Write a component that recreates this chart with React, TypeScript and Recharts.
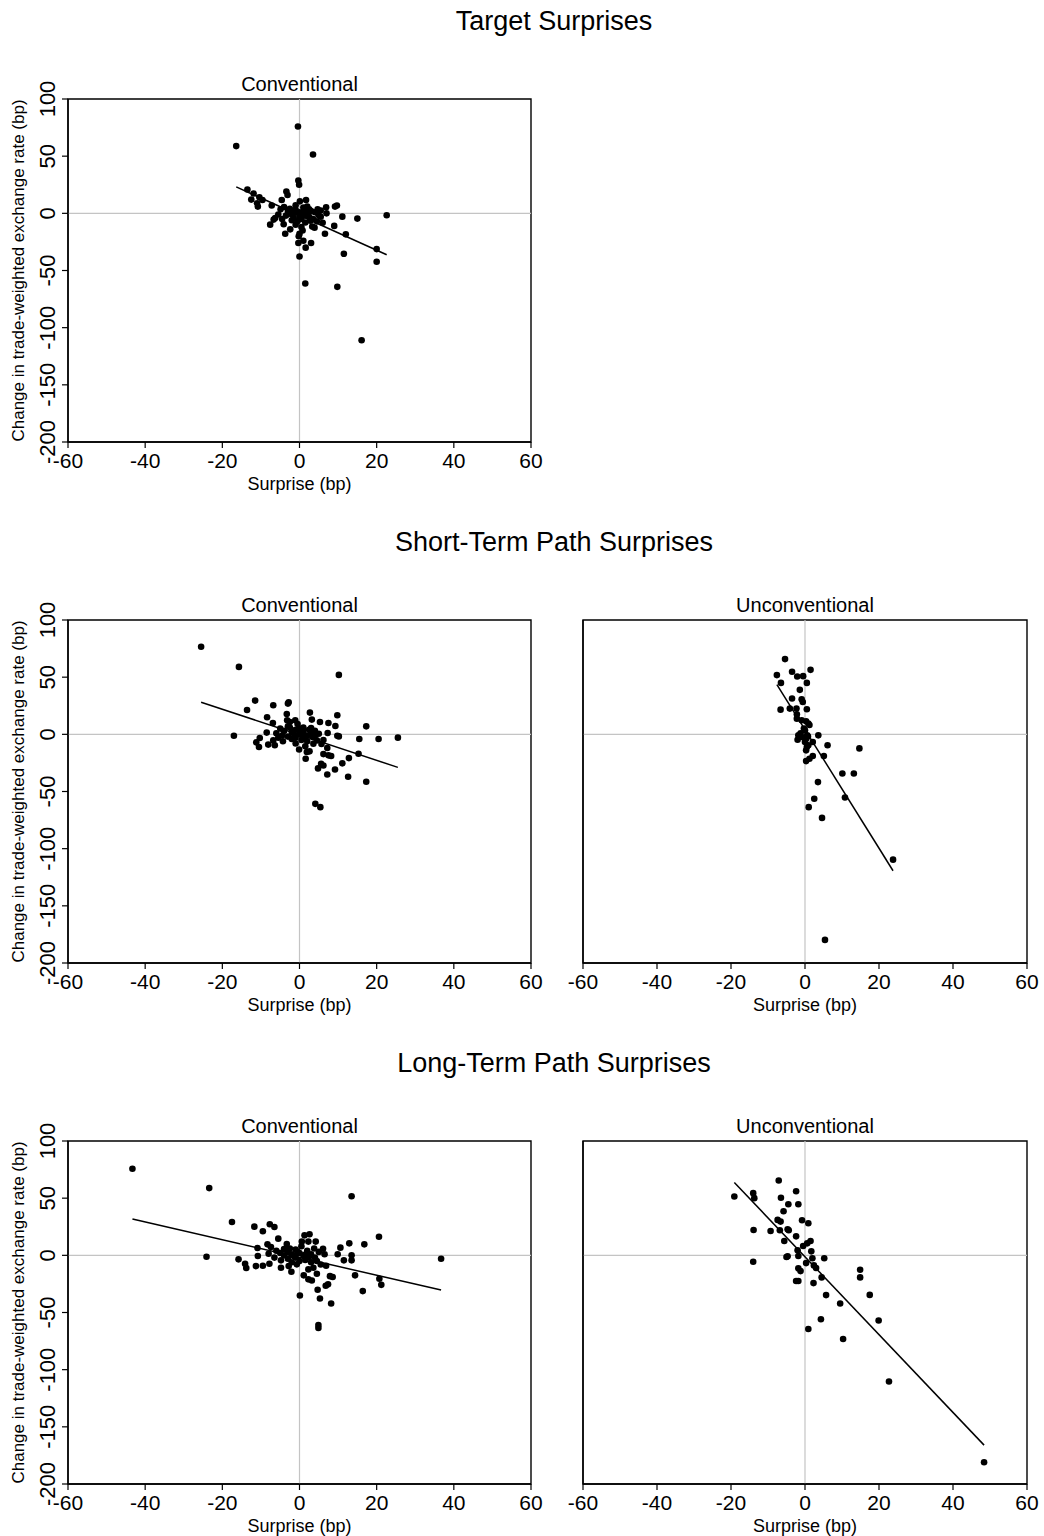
import React from "react";
import {
  ScatterChart,
  Scatter,
  XAxis,
  YAxis,
  ReferenceLine,
  ReferenceArea,
  Label,
} from "recharts";

// ---------- DATA ----------
const xTicks = [-60, -40, -20, 0, 20, 40, 60];
const yTicks = [-200, -150, -100, -50, 0, 50, 100];

const sectionTitles = ["Target Surprises", "Short-Term Path Surprises", "Long-Term Path Surprises"];
const panelTitles = ["Conventional", "Unconventional"];
const xLabel = "Surprise (bp)";
const yLabel = "Change in trade-weighted exchange rate (bp)";

// Target surprises, conventional: [surprise, change]
const targetConv: number[][] = [
  [-16.4, 58.8], [-0.4, 76], [3.5, 51.5], [-0.3, 28.7], [-0.1, 25], [-13.5, 20.8], [-11.9, 17.3],
  [-12.5, 12], [-10.4, 14], [-9.6, 11.7], [-11, 8.8], [-10.8, 5.9], [-7.2, 6.8], [-3.4, 19],
  [-3.1, 16.1], [-4.6, 11.7], [-4.9, 3.5], [-4.0, 5.6], [0.1, 10.5], [1.7, 11.7], [6.9, 5.3],
  [9.2, 5.9], [9.7, 6.8], [7.0, 0], [4.7, 3.5], [4.9, -1.4], [11.1, -2.9], [15.0, -4.6],
  [22.6, -1.7], [-6.7, -5.5], [-6.3, -4.1], [-7.6, -9.9], [-4.1, -9.6], [-2.4, -14], [-3.7, -17.8],
  [6.0, -8.2], [3.9, -12.5], [3.3, -11.6], [9.0, -11], [6.6, -17.8], [12.0, -18.4], [0, -18],
  [1.0, -24], [-0.3, -26], [1.6, -30], [3.0, -26], [0, -37.7], [11.5, -35.4], [20.0, -31.3],
  [20.0, -42.4], [1.5, -61.4], [9.8, -64.3], [16.1, -111],
  [-3, 2], [-2, -1], [-1, 3], [0, 1], [1, -2], [2, 0], [3, 2], [-1.5, -4], [0.5, -5], [2.5, -3],
  [-2.5, 4], [1, 5], [-0.5, -7], [1.5, -8], [0.5, -12], [-1, -10], [3.5, -5], [4, 1], [-3.5, -2],
  [-1, 7], [2, 6], [0, -3], [-0.5, 0.5], [1.2, 2.5], [2.8, -6.5], [-2, -6], [-1.8, 1.2], [0.8, -15],
  [-0.2, -20], [5.5, -3], [4.5, -7], [-5.5, -1], [-4.5, -5], [2.5, 3.5], [5.5, 2.5],
];
const targetConvFit = [[-16.4, 23.1], [22.6, -36.2]];

// Short-term path surprises
const shortConv: number[][] = [
  [-25.5, 76.6], [-15.7, 59], [10.2, 52], [-11.5, 29.5], [-13.6, 21.3], [-6.8, 25.4], [-3.0, 26.9],
  [-2.8, 28], [-8.4, 14.9], [-3.3, 17.8], [-3.2, 12.3], [-2.5, 10.8], [-1.1, 12.3], [-6.9, 9.9],
  [2.7, 19], [3.2, 12.9], [5.3, 10.8], [7.5, 9.9], [9.8, 16.7], [9.3, 7.3], [17.3, 7.0], [7.3, 1.2],
  [9.8, -1.2], [10.2, -1.8], [-17.0, -1.2], [-8.5, 1.5], [15.5, -4.1], [20.5, -4.1], [25.5, -2.9],
  [-10.3, -3.2], [-11.2, -7], [-10.5, -11.1], [-8.1, -9], [-6.8, -5.3], [-6.4, -9.6], [-4.3, -6.1],
  [-0.1, -13.2], [1.5, -10.5], [1.6, -21.3], [1.9, -15.5], [2.6, -14.9], [3.6, -8.2], [4.5, -5.3],
  [6.2, -5.0], [5.7, -8.5], [7.2, -12], [6.2, -17.3], [7.5, -18.4], [8.2, -19.0], [15.3, -17],
  [12.8, -20.8], [11.1, -25.4], [5.6, -25.7], [6.2, -27.2], [4.8, -29.8], [9.2, -30.7], [7.2, -35.1],
  [12.6, -37.1], [17.3, -41.5], [4.1, -60.8], [5.4, -63.7],
  [-5, 5], [-4, 3], [-3, 7], [-2, 2], [-1, 4], [0, 0], [1, 2], [2, -1], [3, 1], [4, 3], [-3, -2],
  [-1, -3], [0.5, -5], [2, -6], [-2, -4], [1, 6], [-0.5, 9], [0, 5], [-4.5, -1], [2.5, 4], [5, 0.5],
  [3.5, -2.5], [-6, 1], [1.5, -3], [-1.5, 0.8], [0.3, 2.8], [-2.5, 6], [0.8, -1.5], [-5.5, -3],
  [3, 5.5], [4, -1], [-1, -8],
];
const shortConvFit = [[-25.5, 28.1], [25.5, -28.9]];

const shortUnconv: number[][] = [
  [-5.4, 65.8], [-7.6, 51.8], [-6.5, 45], [-3.5, 54.7], [-2.1, 50.6], [-0.5, 50.9], [1.5, 56.4],
  [0.5, 45], [-1.4, 38.9], [-3.5, 31.3], [-0.9, 30.7], [-0.6, 28.3], [-6.6, 21.6], [-4.1, 22.5],
  [-2.3, 22.5], [0.5, 21.9], [-2.2, 17.5], [-2.2, 13.7], [-0.9, 12.3], [0.3, 11.4], [0.9, 9.4],
  [1.2, 8.2], [-0.3, 5], [0, 3.5], [-1.8, -0.9], [-2.0, -4.7], [-0.9, -2.3], [0.3, -3.8], [0.6, -0.9],
  [3.6, -0.9], [2.1, -6.7], [0, -6.7], [6.1, -9.6], [0.5, -11.1], [0.9, -9.6], [0.3, -14],
  [14.7, -12.3], [5.1, -19], [2.1, -19], [1.2, -21.3], [0.3, -23.4], [10.1, -34.2], [13.2, -34.2],
  [3.5, -41.8], [10.8, -55.3], [2.5, -56.4], [1.0, -63.7], [4.6, -73.1], [23.8, -109.6], [5.4, -179.8],
  [-1.2, 1.0], [0.8, -2.0],
];
const shortUnconvFit = [[-7.6, 43.5], [23.8, -119.3]];

// Long-term path surprises
const longConv: number[][] = [
  [-43.3, 75.7], [-23.4, 58.8], [13.5, 51.7], [-17.5, 29.2], [-11.7, 25.1], [-9.5, 21.1], [-7.7, 27.2],
  [-6.5, 24.8], [-5.5, 14.6], [-3.3, 9.9], [1.3, 17.5], [2.6, 18.4], [0.6, 12], [2.3, 12], [4.2, 12],
  [20.6, 16.3], [12.9, 10.5], [16.8, 9.6], [10.6, 6.7], [6.1, 5.8], [-10.9, 6.4], [-8.3, 9.6],
  [-7.4, 7.3], [-24.1, -1.2], [36.7, -3.0], [-15.8, -3.5], [-14.1, -7.3], [-13.8, -11.1], [-11.3, -9.4],
  [-9.5, -9.1], [-7.8, -7.3], [-10.8, -0.6], [-8.0, 1.4], [-4.8, -4.4], [-4.8, -10.9], [-2.1, -14.4],
  [-2.8, -9.4], [-0.7, -7.9], [1.1, -17.5], [2.3, -21], [3.2, -22], [2.3, -12.3], [3.6, -10.8],
  [4.5, -16.1], [6.9, -9.1], [9.9, 0.9], [11.5, -4.4], [13.5, 0], [13.5, -4.4], [7.9, -18.2],
  [8.6, -19], [14.4, -17.5], [20.7, -20.5], [21.2, -25.8], [6.8, -26.6], [7.4, -25.4], [4.7, -30.1],
  [16.4, -31.3], [0.1, -35.1], [5.3, -37.7], [8.2, -42.1], [4.9, -61], [4.9, -63.6],
  [-6, 4], [-5, 2], [-4, 0], [-3, 3], [-2, 1], [-1, 5], [0, 2], [1, 0], [2, 4], [3, 1], [4, -2],
  [5, 3], [-3, -3], [-1, -2], [0, -5], [1.5, -4], [3, -6], [4.5, -5], [-2.5, 6], [0.5, 8],
  [-1.5, -0.5], [2.5, -1], [3.8, 6], [-6.5, -2], [5.5, -8], [-0.5, 3], [1.8, 1.5], [-4, 5.5],
  [6.5, 1], [-2, -6],
];
const longConvFit = [[-43.3, 31.8], [36.7, -30.4]];

const longUnconv: number[][] = [
  [-19.1, 51.4], [-14.0, 54.4], [-13.7, 50], [-7.1, 65.4], [-2.4, 56.1], [-6.5, 50.3], [-4.5, 44.7],
  [-1.8, 44.7], [-5.8, 38.6], [-7.4, 31], [-6.6, 29.5], [-0.8, 30.7], [0.9, 28.1], [-13.9, 22.2],
  [-9.3, 21.3], [-6.8, 22], [-4.7, 22.8], [-4.4, 22], [-2.4, 16.6], [-5.6, 12.5], [-0.5, 8.2],
  [0.6, 10.5], [1.5, 12.5], [-2.0, 4.4], [-1.8, -0.6], [-5.0, -1.5], [-4.7, -0.9], [1.7, 3.5],
  [2.0, -2.6], [0.3, -6.8], [5.2, -2.6], [2.4, -8.8], [3.0, -11.1], [-1.8, -11.4], [-1.2, -13.8],
  [-14, -5.6], [4.5, -19.3], [-2.4, -22.5], [-1.8, -22.5], [2.3, -24.3], [14.9, -12.6], [14.9, -19.3],
  [5.7, -34.8], [17.5, -34.6], [9.5, -42.1], [4.3, -55.9], [19.9, -57], [0.9, -64.4], [10.3, -73.2],
  [22.7, -110.3], [48.4, -181],
];
const longUnconvFit = [[-19.1, 63.7], [48.4, -166]];

// ---------- LAYOUT ----------
const FONT = "'Liberation Sans', Arial, Helvetica, sans-serif";
const rowTops = [99, 620, 1141];
const PLOT_H = 343;
const LEFT = { plotLeft: 68, plotW: 463 };
const RIGHT = { plotLeft: 583, plotW: 444 };
const M_TOP = 40;
const M_LEFT = 8;
const Y_W = 60;
const X_H = 60;
const M_BOTTOM = 5;
const M_RIGHT = 16;

const toPts = (arr: number[][]) => arr.map(([x, y]) => ({ x, y }));

const Dot = (props: any) => {
  const { cx, cy } = props;
  if (cx == null || cy == null) return <g />;
  return <circle cx={cx} cy={cy} r={3.3} fill="#000" />;
};

const XTick = (props: any) => {
  const { x, y, payload } = props;
  return (
    <text x={x} y={y + 18} textAnchor="middle" fontSize={21} fontFamily={FONT} fill="#000">
      {payload.value}
    </text>
  );
};

const YTick = (props: any) => {
  const { x, y, payload } = props;
  const tx = x - 5;
  return (
    <text
      x={tx}
      y={y}
      transform={`rotate(-90 ${tx} ${y})`}
      textAnchor="middle"
      fontSize={22}
      fontFamily={FONT}
      fill="#000"
    >
      {payload.value}
    </text>
  );
};

type PanelProps = {
  data: number[][];
  fit: number[][];
  title: string;
  side: "left" | "right";
  row: number;
};

const Panel = ({ data, fit, title, side, row }: PanelProps) => {
  const geo = side === "left" ? LEFT : RIGHT;
  const chartLeft = geo.plotLeft - (M_LEFT + Y_W);
  const chartTop = rowTops[row] - M_TOP;
  const width = M_LEFT + Y_W + geo.plotW + M_RIGHT;
  const height = M_TOP + PLOT_H + X_H + M_BOTTOM;
  const plotCenterX = M_LEFT + Y_W + geo.plotW / 2;
  const axisY = M_TOP + PLOT_H;
  return (
    <div style={{ position: "absolute", left: chartLeft, top: chartTop, width, height }}>
      <ScatterChart
        width={width}
        height={height}
        margin={{ top: M_TOP, right: M_RIGHT, left: M_LEFT, bottom: M_BOTTOM }}
      >
        <XAxis
          type="number"
          dataKey="x"
          domain={[-60, 60]}
          ticks={xTicks}
          interval={0}
          height={X_H}
          allowDataOverflow
          axisLine={{ stroke: "#000", strokeWidth: 1.4 }}
          tickLine={{ stroke: "#000", strokeWidth: 1.2 }}
          tickSize={6}
          tick={<XTick />}
        >
          <Label
            content={() => (
              <text
                x={plotCenterX}
                y={axisY + 48}
                textAnchor="middle"
                fontSize={18}
                fontFamily={FONT}
                fill="#000"
              >
                {xLabel}
              </text>
            )}
          />
        </XAxis>
        <YAxis
          type="number"
          dataKey="y"
          domain={[-200, 100]}
          ticks={yTicks}
          interval={0}
          width={Y_W}
          allowDataOverflow
          axisLine={{ stroke: "#000", strokeWidth: 1.4 }}
          tickLine={{ stroke: "#000", strokeWidth: 1.2 }}
          tickSize={6}
          tick={side === "left" ? <YTick /> : false}
        >
          {side === "left" ? (
            <Label
              content={() => (
                <text
                  x={24}
                  y={M_TOP + PLOT_H / 2}
                  transform={`rotate(-90 24 ${M_TOP + PLOT_H / 2})`}
                  textAnchor="middle"
                  fontSize={17}
                  fontFamily={FONT}
                  fill="#000"
                >
                  {yLabel}
                </text>
              )}
            />
          ) : null}
        </YAxis>
        <ReferenceLine x={0} stroke="#c4c4c4" strokeWidth={1.2} />
        <ReferenceLine y={0} stroke="#c4c4c4" strokeWidth={1.2} />
        <Scatter data={toPts(data)} fill="#000" shape={<Dot />} isAnimationActive={false} />
        <ReferenceLine
          segment={[
            { x: fit[0][0], y: fit[0][1] },
            { x: fit[1][0], y: fit[1][1] },
          ]}
          stroke="#000"
          strokeWidth={1.5}
        />
        <ReferenceArea
          x1={-60}
          x2={60}
          y1={-200}
          y2={100}
          fill="none"
          fillOpacity={0}
          stroke="#000"
          strokeWidth={1.4}
          label={{
            value: title,
            position: "top",
            offset: 8,
            fontSize: 20,
            fontFamily: FONT,
            fill: "#000",
          }}
        />
      </ScatterChart>
    </div>
  );
};

const titleBaselines = [30, 551, 1072];

export default function App() {
  return (
    <div
      style={{
        position: "absolute",
        left: 0,
        top: 0,
        width: 1044,
        height: 1536,
        background: "#fff",
        fontFamily: FONT,
        overflow: "hidden",
      }}
    >
      <svg
        width={1044}
        height={1536}
        style={{ position: "absolute", left: 0, top: 0, pointerEvents: "none" }}
      >
        {sectionTitles.map((t, i) => (
          <text
            key={t}
            x={554}
            y={titleBaselines[i]}
            textAnchor="middle"
            fontSize={27}
            fontFamily={FONT}
            fill="#000"
          >
            {t}
          </text>
        ))}
      </svg>
      <Panel data={targetConv} fit={targetConvFit} title={panelTitles[0]} side="left" row={0} />
      <Panel data={shortConv} fit={shortConvFit} title={panelTitles[0]} side="left" row={1} />
      <Panel data={shortUnconv} fit={shortUnconvFit} title={panelTitles[1]} side="right" row={1} />
      <Panel data={longConv} fit={longConvFit} title={panelTitles[0]} side="left" row={2} />
      <Panel data={longUnconv} fit={longUnconvFit} title={panelTitles[1]} side="right" row={2} />
    </div>
  );
}
